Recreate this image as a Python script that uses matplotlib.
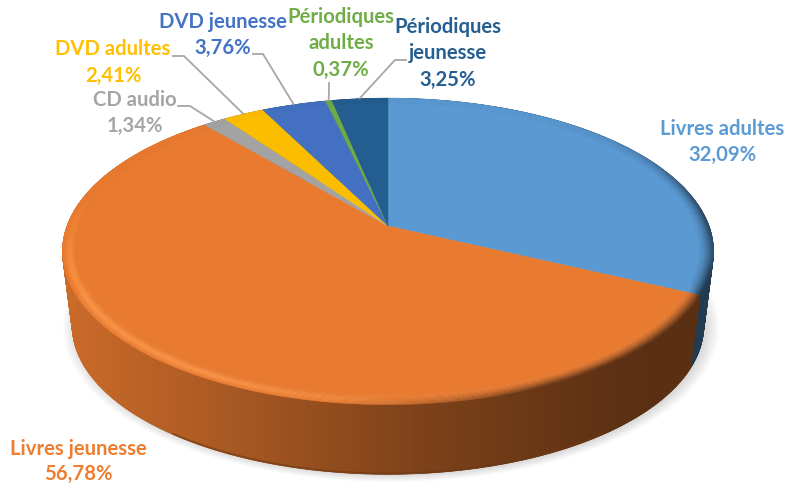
#!/usr/bin/env python3
"""3D style pie of loans by document type, drawn with a projected disk."""

import matplotlib

matplotlib.use("Agg")
import matplotlib.pyplot as plt
import numpy as np
from matplotlib.collections import PolyCollection
from matplotlib.colors import to_rgb
from matplotlib.patches import Polygon

categories = [
    "Livres adultes",
    "Livres jeunesse",
    "CD audio",
    "DVD adultes",
    "DVD jeunesse",
    "Périodiques adultes",
    "Périodiques jeunesse",
]
values = [32.09, 56.78, 1.34, 2.41, 3.76, 0.37, 3.25]
colors = ["#5B9BD5", "#ED7D31", "#A5A5A5", "#FFC000", "#4472C4", "#70AD47", "#255E91"]

# category index, text lines, centre of each line in pixels
LABELS = [
    (0, ["Livres adultes"], (722, 129), (722, 155)),
    (1, ["Livres jeunesse"], (78, 449), (78, 474)),
    (2, ["CD audio"], (135, 100), (135, 126)),
    (3, ["DVD adultes"], (113, 49), (113, 76)),
    (4, ["DVD jeunesse"], (223, 22), (223, 48)),
    (5, ["Périodiques", "adultes"], (341, 17), (341, 70)),
    (6, ["Périodiques", "jeunesse"], (448, 27), (448, 80)),
]
# elbow points of the leader lines, the last point is found on the rim
LEADERS = {
    2: [(178, 106), (190, 106)],
    3: [(173, 56), (184, 56)],
    4: [(253, 54), (263, 54)],
    5: [(329, 83), (329, 90)],
    6: [(406, 60), (395, 60)],
}

CX, CY = 388.0, 226.0
A, B, K = 321.0, 149.0, 0.166
SIDE_SCALE = 0.97
SIDE_CY = 301.0
BEVEL = 0.042


def project(r, theta, cx=CX, cy=CY, scale=1.0):
    u = r * np.sin(theta)
    v = r * np.cos(theta)
    w = 1 + K * v
    return cx + scale * A * u / w, cy - scale * B * v / w


def ring(r, theta, **kwargs):
    x, y = project(r, theta, **kwargs)
    return np.column_stack([x, y])


def side_shade(x):
    return np.interp(x, [60, 200, 420, 620, 720], [0.86, 0.74, 0.53, 0.39, 0.38])


def mix(a, b, t):
    return tuple((1 - t) * np.array(a) + t * np.array(b))


edges = np.radians(np.concatenate([[0], np.cumsum(values)]) * 3.6)

fig = plt.figure(figsize=(7.85, 4.83), dpi=100)
ax = fig.add_axes([0, 0, 1, 1])

# soft shadow under the disk
whole = np.linspace(0, 2 * np.pi, 361)
for i in range(12):
    outline = ring(1.0, whole, cx=CX + 3, cy=SIDE_CY + 1, scale=SIDE_SCALE + 0.0035 * i)
    ax.add_patch(Polygon(outline, closed=True, fc="black", ec="none", alpha=0.012, zorder=1))

# side wall: thin quads give the silhouette, a clipped gradient smooths the shading
xgrid = np.arange(0, 785)
for start, stop, color in zip(edges[:-1], edges[1:], colors):
    base = np.array(to_rgb(color))
    steps = max(2, int((stop - start) / np.radians(0.5)))
    thetas = np.linspace(start, stop, steps + 1)
    top = ring(1.0, thetas)
    low = ring(1.0, thetas, cy=SIDE_CY, scale=SIDE_SCALE)
    quads = [[top[i], top[i + 1], low[i + 1], low[i]] for i in range(steps)]
    shades = [tuple(base * side_shade(top[i, 0])) for i in range(steps)]
    ax.add_collection(PolyCollection(quads, facecolors=shades, edgecolors=shades, linewidths=0.5, zorder=2))
    wall = Polygon(np.vstack([top, low[::-1]]), closed=True, transform=ax.transData, fc="none", ec="none")
    ax.add_patch(wall)
    gradient = base[None, None, :] * side_shade(xgrid)[None, :, None]
    image = ax.imshow(gradient, extent=(0, 785, 483, 0), aspect="auto", interpolation="bilinear", zorder=2)
    image.set_clip_path(wall)
    front = np.cos(thetas) < -0.8
    if front.any():
        edge_color = base * side_shade(low[front, 0].mean()) * 0.82
        ax.plot(low[front, 0], low[front, 1] - 0.8, color=edge_color, lw=1.4, alpha=0.6, zorder=2)

ax.set_xlim(0, 785)
ax.set_ylim(483, 0)
ax.axis("off")

# top face with a bevelled rim
bands = np.linspace(1 - BEVEL, 1.0, 9)
for start, stop, color in zip(edges[:-1], edges[1:], colors):
    base = tuple(np.array(to_rgb(color)) * 0.985)
    steps = max(2, int((stop - start) / np.radians(0.5)))
    thetas = np.linspace(start, stop, steps + 1)
    inner = ring(bands[0], thetas)
    face = np.vstack([[CX, CY], inner])
    ax.add_patch(Polygon(face, closed=True, fc=base, ec=base, lw=0.3, zorder=3))
    quads, shades = [], []
    for j in range(len(bands) - 1):
        t = (j + 0.5) / (len(bands) - 1)
        a = ring(bands[j], thetas)
        b = ring(bands[j + 1], thetas)
        for i in range(steps):
            mid = 0.5 * (thetas[i] + thetas[i + 1])
            x = a[i, 0]
            front = np.clip((0.2 - np.cos(mid)) / 0.5, 0, 1)
            dark = np.clip((x - 330) / 220, 0, 1) * max(front, 0.9 * np.clip(np.sin(mid), 0, 1) ** 8) * t**1.6
            light = np.clip((420 - x) / 200, 0, 1) * front * np.sin(np.pi * t) ** 2
            c = mix(base, tuple(np.array(base) * side_shade(x)), dark)
            c = mix(c, tuple(np.minimum(np.array(base) * 1.12 + 0.05, 1)), light * 0.8)
            quads.append([a[i], a[i + 1], b[i + 1], b[i]])
            shades.append(c)
    ax.add_collection(PolyCollection(quads, facecolors=shades, edgecolors=shades, linewidths=0.3, zorder=3))

# leader lines end on the rim at the middle of the slice
for index, points in LEADERS.items():
    mid = 0.5 * (edges[index] + edges[index + 1])
    end = project(1.005, mid)
    xs = [p[0] for p in points] + [end[0]]
    ys = [p[1] for p in points] + [end[1]]
    ax.plot(xs, ys, color="#A6A6A6", lw=1.3, zorder=4, solid_joinstyle="miter")

for index, lines, first, last in LABELS:
    style = dict(
        color=colors[index],
        family="Lato",
        fontweight="bold",
        fontsize=14.6,
        ha="center",
        va="center",
        zorder=5,
    )
    for n, line in enumerate(lines):
        ax.text(first[0], first[1] + 26 * n, line, **style)
    percent = f"{values[index]:.2f}".replace(".", ",") + "%"
    ax.text(last[0], last[1], percent, **style)

fig.savefig("out.png", dpi=100)
